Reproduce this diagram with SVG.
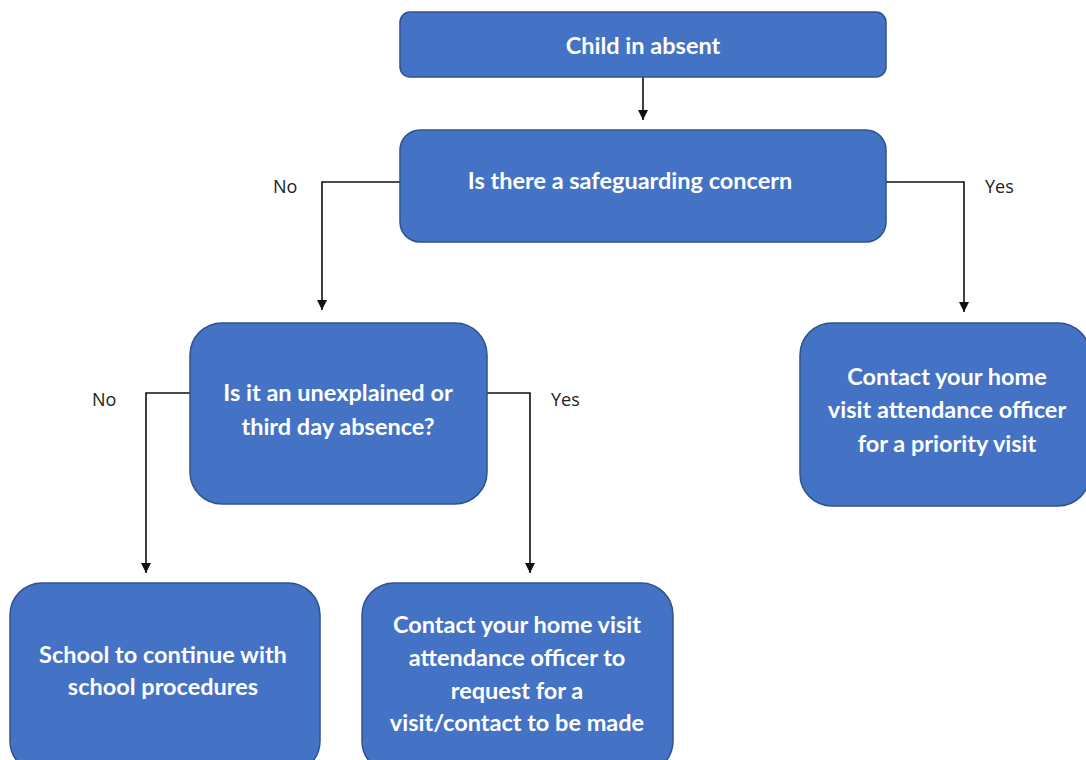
<svg xmlns="http://www.w3.org/2000/svg" width="1086" height="760" viewBox="0 0 1086 760">
<style>
.box{fill:#4472C4;stroke:#2F528F;stroke-width:1.5}
.t{font-family:Lato,"Liberation Sans",sans-serif;font-weight:bold;font-size:23.5px;fill:#fff;text-anchor:middle}
.lbl{font-family:"Open Sans","Liberation Sans",sans-serif;font-size:18px;fill:#222}
.c{fill:none;stroke:#111;stroke-width:1.6}
</style>
<defs>
<marker id="ah" markerWidth="10" markerHeight="10" refX="10" refY="5" orient="auto" markerUnits="userSpaceOnUse" viewBox="0 0 10 10">
<path d="M0,0 L10,5 L0,10 Z" fill="#111"/>
</marker>
</defs>
<rect width="1086" height="760" fill="#fff"/>
<g id="connectors">
<line class="c" x1="643" y1="77" x2="643" y2="120" marker-end="url(#ah)"/>
<polyline class="c" points="400,182 322,182 322,310" marker-end="url(#ah)"/>
<polyline class="c" points="886,182 964,182 964,312" marker-end="url(#ah)"/>
<polyline class="c" points="190,393 146,393 146,573" marker-end="url(#ah)"/>
<polyline class="c" points="487,393 530,393 530,573" marker-end="url(#ah)"/>
<text class="lbl" x="273" y="193">No</text>
<text class="lbl" x="985" y="193">Yes</text>
<text class="lbl" x="92" y="406">No</text>
<text class="lbl" x="551" y="406">Yes</text>
</g>
<g id="n1">
<rect class="box" x="400" y="12" width="486" height="65" rx="10"/>
<text class="t" x="643" y="54">Child in absent</text>
</g>
<g id="n2">
<rect class="box" x="400" y="130" width="486" height="112" rx="20"/>
<text class="t" x="630" y="189">Is there a safeguarding concern</text>
</g>
<g id="n3">
<rect class="box" x="190" y="323" width="297" height="181" rx="32"/>
<text class="t" x="338" y="401">Is it an unexplained or</text>
<text class="t" x="338" y="435">third day absence?</text>
</g>
<g id="n4">
<rect class="box" x="800" y="323" width="290" height="183" rx="32"/>
<text class="t" x="947" y="385">Contact your home</text>
<text class="t" x="947" y="418">visit attendance officer</text>
<text class="t" x="947" y="452">for a priority visit</text>
</g>
<g id="n5">
<rect class="box" x="10" y="583" width="310" height="190" rx="32"/>
<text class="t" x="163" y="663">School to continue with</text>
<text class="t" x="163" y="695">school procedures</text>
</g>
<g id="n6">
<rect class="box" x="362" y="583" width="311" height="190" rx="32"/>
<text class="t" x="517" y="633">Contact your home visit</text>
<text class="t" x="517" y="666">attendance officer to</text>
<text class="t" x="517" y="699">request for a</text>
<text class="t" x="517" y="731">visit/contact to be made</text>
</g>
</svg>
